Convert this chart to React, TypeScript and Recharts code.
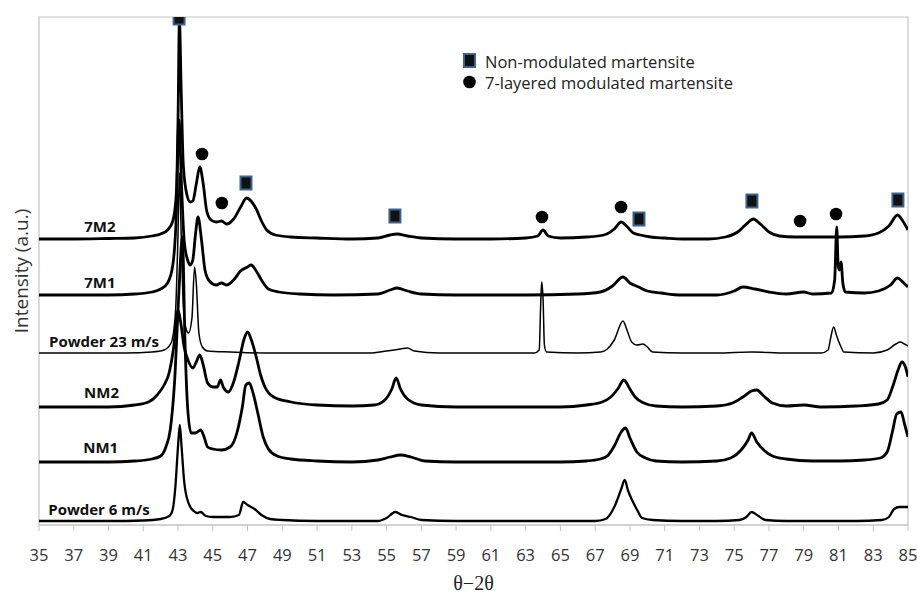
import React from "react";
import {
  ComposedChart,
  Line,
  Scatter,
  XAxis,
  YAxis,
  Label,
  Legend,
  ReferenceArea,
  ReferenceDot,
} from "recharts";

// 2θ ticks
const X_TICKS = [35, 37, 39, 41, 43, 45, 47, 49, 51, 53, 55, 57, 59, 61, 63, 65, 67, 69, 71, 73, 75, 77, 79, 81, 83, 85];

// Vertical offsets of each pattern (a.u.)
const OFFSETS = { p6: 4, nm1: 63, nm2: 118, p23: 172, m71: 230, m72: 286 };

// [2θ, intensity above baseline]
const trace7M2: [number, number][] = [
  [35, 0], [37, 0], [39, 0.5], [40.5, 1], [41.5, 3], [42, 5], [42.4, 9], [42.7, 18], [42.9, 45], [43.0, 120], [43.08, 219],
  [43.18, 150], [43.3, 75], [43.5, 45], [43.7, 37], [43.85, 38], [44.05, 55], [44.25, 72], [44.45, 55], [44.65, 28], [44.9, 19],
  [45.2, 17], [45.5, 18], [45.8, 15], [46.2, 20], [46.6, 32], [46.95, 41], [47.2, 38], [47.5, 30], [47.8, 18], [48.1, 9],
  [48.6, 4], [49.5, 2], [51, 1], [53, 0], [54.5, 1], [55.2, 4], [55.6, 5], [56.2, 3], [57, 1], [59, 0], [61, 0], [63, 1],
  [63.7, 3], [64.0, 9], [64.3, 3], [65, 1], [66.5, 2], [67.5, 4], [68.1, 10], [68.5, 17], [68.8, 13], [69.2, 6], [69.6, 4],
  [70.2, 2], [71, 1], [72, 0], [73.5, 0], [74.5, 2], [75.2, 7], [75.7, 15], [76.1, 20], [76.5, 15], [77.0, 7], [77.6, 3],
  [78.5, 2], [79.5, 2], [81, 2], [82.5, 3], [83.3, 6], [83.9, 13], [84.4, 24], [84.7, 18], [85, 9],
];

const trace7M1: [number, number][] = [
  [35, 0], [37, 0], [39, 0], [40.5, 1], [41.5, 3], [42, 6], [42.4, 12], [42.7, 30], [42.9, 80], [43.05, 175], [43.2, 110],
  [43.35, 55], [43.55, 35], [43.7, 30], [43.85, 35], [44.0, 60], [44.15, 78], [44.35, 55], [44.55, 25], [44.8, 14], [45.2, 10],
  [45.5, 12], [45.8, 10], [46.2, 15], [46.6, 24], [47.0, 28], [47.2, 30], [47.5, 24], [47.8, 15], [48.2, 6], [48.8, 3],
  [50, 1], [52, 0], [54.5, 1], [55.2, 5], [55.6, 7], [56.2, 4], [57, 1], [59, 0], [61, 0], [63, 0], [66, 1], [67.3, 3],
  [68.0, 9], [68.6, 18], [69.0, 12], [69.5, 8], [70.0, 4], [70.8, 2], [72, 0], [74, 0], [75.0, 4], [75.5, 8], [76.2, 6],
  [77, 3], [78, 1], [79, 3], [79.5, 1], [80.6, 2], [80.78, 15], [80.9, 68], [80.98, 30], [81.05, 25], [81.15, 33],
  [81.25, 12], [81.4, 3], [82.5, 2], [83.3, 4], [84.0, 10], [84.4, 17], [84.7, 13], [85, 8],
];

const tracePowder23: [number, number][] = [
  [35, 0], [38, 0], [40, 0], [41.5, 1], [42.2, 3], [42.6, 10], [42.85, 40], [43.0, 120], [43.08, 180], [43.18, 120],
  [43.3, 50], [43.45, 25], [43.6, 20], [43.8, 35], [43.95, 86], [44.05, 70], [44.2, 20], [44.4, 6], [44.7, 2], [46, 1],
  [48, 0], [50, 0], [52, 0], [54, 0], [55, 2], [55.8, 4], [56.2, 5], [56.6, 2], [58, 0], [60, 0], [62, 0], [63.5, 0],
  [63.78, 3], [63.86, 45], [63.92, 71], [64.0, 55], [64.08, 8], [64.2, 1], [66, 0], [67.3, 1], [67.7, 4], [68.1, 13],
  [68.6, 32], [68.85, 22], [69.1, 11], [69.4, 8], [69.75, 9], [70.0, 6], [70.3, 1], [72, 0], [74, 0], [76, 1], [78, 0],
  [80, 0], [80.4, 3], [80.55, 15], [80.72, 26], [80.88, 18], [81.0, 12], [81.15, 6], [81.3, 1], [83, 0], [83.8, 3],
  [84.3, 9], [84.55, 11], [84.8, 9], [85, 7],
];

const traceNM2: [number, number][] = [
  [35, 0], [37, 0], [39, 0], [40.5, 2], [41.3, 5], [41.8, 12], [42.2, 22], [42.5, 35], [42.75, 60], [43.0, 97], [43.15, 85],
  [43.35, 60], [43.55, 48], [43.85, 39], [44.05, 45], [44.25, 52], [44.45, 42], [44.7, 24], [45.0, 20], [45.25, 20],
  [45.45, 27], [45.6, 20], [45.9, 15], [46.2, 25], [46.5, 45], [46.8, 68], [47.0, 75], [47.2, 68], [47.5, 50], [47.75, 32],
  [48.0, 20], [48.5, 10], [49.5, 5], [51, 2], [53, 1], [54.3, 2], [54.9, 7], [55.3, 18], [55.55, 29], [55.8, 18], [56.2, 8],
  [57, 2], [59, 0], [61, 0], [63, 0], [65, 0], [66.5, 2], [67.4, 5], [67.9, 10], [68.3, 18], [68.65, 27], [69.0, 18],
  [69.3, 10], [69.8, 4], [70.5, 1], [72, 0], [74, 1], [74.9, 4], [75.5, 10], [76.0, 16], [76.3, 17], [76.7, 11], [77.2, 4],
  [78, 1], [79, 2], [80, 0], [82, 1], [83.3, 3], [83.8, 7], [84.15, 22], [84.45, 38], [84.65, 45], [84.85, 40], [85, 30],
];

const traceNM1: [number, number][] = [
  [35, 0], [37, 0], [39, 0], [40.5, 1], [41.5, 3], [42.0, 6], [42.3, 15], [42.55, 32], [42.8, 80], [43.05, 170], [43.25, 225],
  [43.4, 120], [43.55, 55], [43.75, 29], [44.0, 29], [44.3, 32], [44.5, 25], [44.7, 15], [45.0, 13], [45.5, 12], [46.0, 15],
  [46.4, 30], [46.7, 55], [46.9, 77], [47.1, 79], [47.3, 70], [47.6, 48], [47.9, 25], [48.2, 13], [48.7, 6], [49.5, 3],
  [51, 1], [53, 0], [54.5, 2], [55.2, 5], [55.8, 7], [56.4, 5], [57.2, 1], [59, 0], [61, 0], [63, 0], [65, 0], [66.5, 1],
  [67.3, 3], [67.7, 6], [68.1, 16], [68.5, 30], [68.75, 34], [69.0, 24], [69.4, 10], [69.9, 4], [70.5, 1], [72, 0], [74, 1],
  [74.8, 4], [75.4, 12], [75.8, 22], [76.0, 29], [76.3, 20], [76.7, 12], [77.2, 6], [78, 3], [79.5, 1], [81, 1], [82.5, 2],
  [83.4, 4], [83.8, 10], [84.1, 30], [84.35, 48], [84.6, 50], [84.8, 38], [85, 25],
];

const tracePowder6: [number, number][] = [
  [35, 0], [37, 0], [39, 0], [41, 0.5], [42.0, 2], [42.5, 5], [42.7, 12], [42.85, 35], [43.0, 75], [43.1, 96], [43.2, 75],
  [43.35, 40], [43.6, 18], [43.9, 10], [44.1, 8], [44.3, 9], [44.6, 5], [45.0, 4], [45.5, 4], [46.0, 4], [46.5, 6],
  [46.75, 19], [47.0, 16], [47.4, 12], [47.8, 6], [48.3, 2], [49, 1], [51, 0], [53, 0], [54.5, 0], [55.0, 3], [55.5, 9],
  [55.9, 6], [56.4, 4], [57, 1], [59, 0], [61, 0], [63, 0], [65, 0], [67, 0], [67.6, 2], [68.1, 14], [68.5, 32], [68.7, 41],
  [68.9, 30], [69.15, 20], [69.45, 10], [69.7, 3], [70.3, 1], [72, 0], [74, 0], [75.3, 1], [75.7, 4], [76.0, 9], [76.4, 5],
  [76.8, 1], [78, 0], [80, 0], [82, 0], [83.5, 1], [83.9, 4], [84.2, 12], [84.5, 14], [85, 14],
];

// Phase markers [2θ, height (a.u.)]
const NM_MARKERS: [number, number][] = [
  [43.06, 507], [46.91, 342], [55.48, 309], [69.52, 306], [76.02, 324], [84.42, 325],
];
const M7_MARKERS: [number, number][] = [
  [44.38, 371], [45.52, 322], [63.94, 308], [68.49, 318], [78.79, 304], [80.86, 311],
];

// Pattern labels [text, 2θ, height]
const TRACE_LABELS: [string, number, number][] = [
  ["7M2", 38.5, 298],
  ["7M1", 38.5, 242],
  ["Powder 23 m/s", 38.74, 183],
  ["NM2", 38.6, 132],
  ["NM1", 38.55, 77],
  ["Powder 6 m/s", 38.45, 15],
];

const toRows = (t: [number, number][], off: number) => t.map(([x, h]) => ({ x, y: h + off }));
const toPts = (t: [number, number][]) => t.map(([x, y]) => ({ x, y }));

const SERIES = [
  { name: "7M2", data: toRows(trace7M2, OFFSETS.m72), w: 2.8 },
  { name: "7M1", data: toRows(trace7M1, OFFSETS.m71), w: 2.8 },
  { name: "Powder 23 m/s", data: toRows(tracePowder23, OFFSETS.p23), w: 1.5 },
  { name: "NM2", data: toRows(traceNM2, OFFSETS.nm2), w: 2.8 },
  { name: "NM1", data: toRows(traceNM1, OFFSETS.nm1), w: 2.8 },
  { name: "Powder 6 m/s", data: toRows(tracePowder6, OFFSETS.p6), w: 2.3 },
];

const SANS = "'Open Sans', 'DejaVu Sans', sans-serif";

const SquareMark = (props: any) => {
  const { cx, cy } = props;
  if (cx == null || cy == null) return <g />;
  return <rect x={cx - 5.5} y={cy - 6.5} width={11} height={13} fill="#111" stroke="#3d6491" strokeWidth={2} />;
};
const CircleMark = (props: any) => {
  const { cx, cy } = props;
  if (cx == null || cy == null) return <g />;
  return <circle cx={cx} cy={cy} r={6.3} fill="#000" />;
};

const XTick = (props: any) => {
  const { x, y, payload } = props;
  return (
    <text x={x} y={y} dy={17} textAnchor="middle" fontFamily={SANS} fontSize={16.5} fill="#333">
      {payload.value}
    </text>
  );
};

const LegendContent = () => (
  <svg width={320} height={44} style={{ display: "block" }}>
    <rect x={2} y={4} width={11} height={13} fill="#111" stroke="#3d6491" strokeWidth={2} />
    <text x={23} y={11} dominantBaseline="central" fontFamily={SANS} fontSize={16.5} fill="#222">
      Non-modulated martensite
    </text>
    <circle cx={7.5} cy={32} r={6.3} fill="#000" />
    <text x={23} y={32} dominantBaseline="central" fontFamily={SANS} fontSize={16.5} fill="#222">
      7-layered modulated martensite
    </text>
  </svg>
);

export default function App() {
  return (
    <div style={{ position: "absolute", left: 0, top: 0, background: "#fff" }}>
      <ComposedChart width={917} height={593} margin={{ top: 17, right: 9, bottom: 0, left: 0 }}>
        <XAxis
          type="number"
          dataKey="x"
          domain={[35, 85]}
          ticks={X_TICKS}
          interval={0}
          height={68}
          tickSize={6}
          tickMargin={13}
          axisLine={{ stroke: "#c4c4c4" }}
          tickLine={{ stroke: "#c4c4c4" }}
          tick={XTick}
          allowDataOverflow
        >
          <Label
            value="θ−2θ"
            position="insideBottom"
            offset={3}
            style={{ fontFamily: "'Liberation Serif', 'DejaVu Serif', serif", fontSize: 20, fill: "#222" }}
          />
        </XAxis>
        <YAxis
          type="number"
          dataKey="y"
          domain={[0, 508]}
          width={39}
          tick={false}
          tickLine={false}
          axisLine={false}
          allowDataOverflow
        >
          <Label
            value="Intensity (a.u.)"
            angle={-90}
            position="center"
            dx={2}
            style={{ fontFamily: SANS, fontSize: 19, fill: "#333", textAnchor: "middle" }}
          />
        </YAxis>
        <ReferenceArea x1={35} x2={85} y1={0} y2={508} fill="none" stroke="#c4c4c4" strokeWidth={1.2} ifOverflow="visible" />
        {SERIES.map((s) => (
          <Line
            key={s.name}
            data={s.data}
            dataKey="y"
            name={s.name}
            type="monotone"
            stroke="#000"
            strokeWidth={s.w}
            dot={false}
            activeDot={false}
            isAnimationActive={false}
            legendType="none"
          />
        ))}
        <Scatter
          name="Non-modulated martensite"
          data={toPts(NM_MARKERS)}
          shape={SquareMark}
          isAnimationActive={false}
        />
        <Scatter
          name="7-layered modulated martensite"
          data={toPts(M7_MARKERS)}
          shape={CircleMark}
          isAnimationActive={false}
        />
        {TRACE_LABELS.map(([t, x, y]) => (
          <ReferenceDot
            key={t}
            x={x}
            y={y}
            r={0}
            fill="none"
            stroke="none"
            label={{ value: t, position: "center", fill: "#111", fontSize: 15, fontWeight: 700, fontFamily: SANS }}
          />
        ))}
        <Legend
          layout="horizontal"
          verticalAlign="middle"
          align="center"
          width={320}
          wrapperStyle={{ left: 462, top: 50, width: 320 }}
          content={LegendContent}
        />
      </ComposedChart>
    </div>
  );
}
